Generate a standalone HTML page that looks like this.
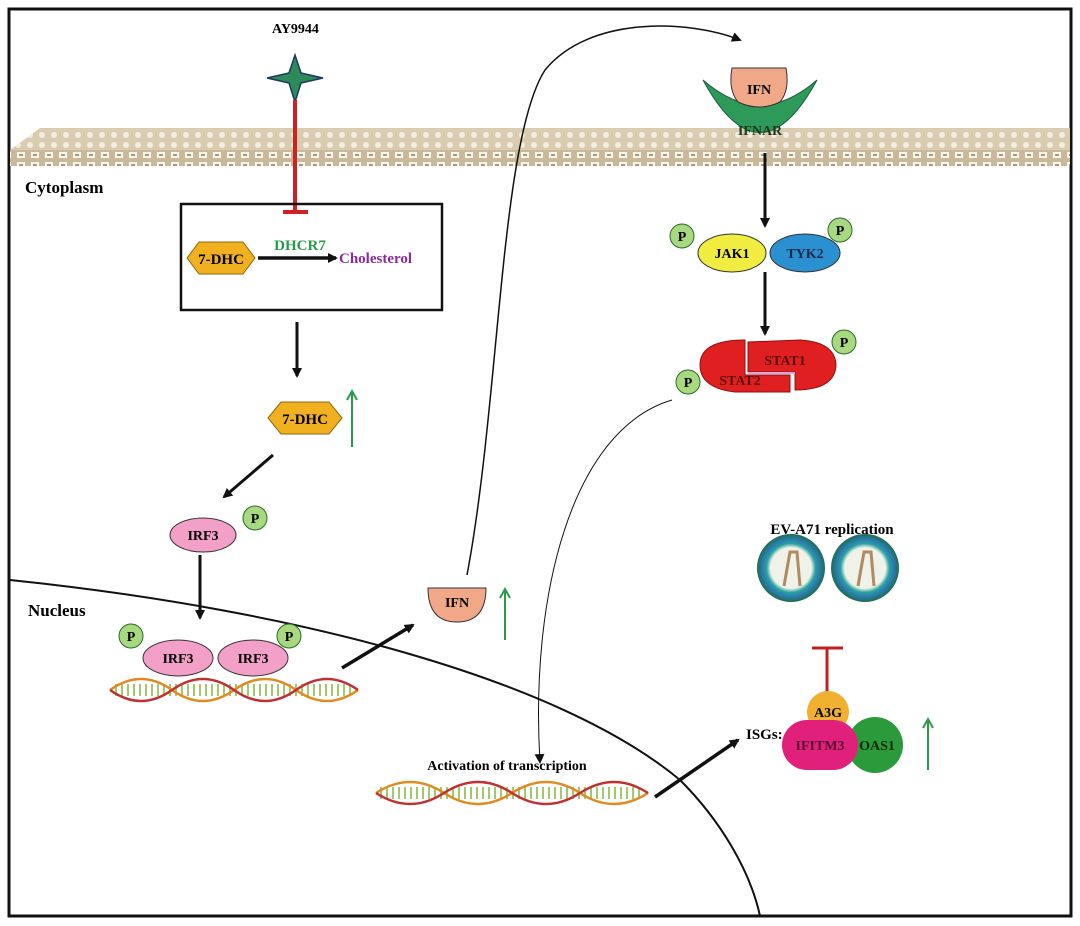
<!DOCTYPE html>
<html><head><meta charset="utf-8"><style>body{margin:0;background:#fff}svg{display:block}text{font-family:"Liberation Serif",serif;font-weight:bold}</style></head><body>
<svg width="1080" height="926" viewBox="0 0 1080 926" xmlns="http://www.w3.org/2000/svg">
<defs>
<marker id="ahs" markerWidth="10" markerHeight="10" refX="8" refY="5" orient="auto" markerUnits="userSpaceOnUse"><path d="M0,0 L10,5 L0,10 z" fill="#111"/></marker>
<pattern id="mem" width="12" height="10" patternUnits="userSpaceOnUse"><rect width="12" height="10" fill="#d9ccb0"/><circle cx="6" cy="5" r="3" fill="#f3ece0"/></pattern>
<pattern id="mem2" width="14" height="10" patternUnits="userSpaceOnUse"><rect width="14" height="10" fill="#c9b99a"/><rect x="3" y="2" width="8" height="6" fill="#fbf7ef"/><rect x="5" y="4" width="4" height="2" fill="#a8987a"/></pattern>
<radialGradient id="vir"><stop offset="0.6" stop-color="#eef2e8"/><stop offset="0.72" stop-color="#2aa0a0"/><stop offset="0.85" stop-color="#2a7ab0"/><stop offset="1" stop-color="#1f6d4a"/></radialGradient>
</defs>
<rect x="9" y="9" width="1062" height="907" fill="none" stroke="#111" stroke-width="3"/>
<polygon points="10,150 40,128 1070,128 1070,150" fill="url(#mem)"/>
<rect x="10" y="150" width="1060" height="16" fill="url(#mem2)"/>
<path d="M10,580 C300,610 560,680 680,780 C720,820 750,870 760,916" fill="none" stroke="#111" stroke-width="2"/>
<text x="25" y="193" font-size="17">Cytoplasm</text>
<text x="28" y="616" font-size="17">Nucleus</text>
<text x="272" y="33" font-size="14">AY9944</text>
<path d="M295,55 L301,73 L323,78 L301,83 L295,102 L289,83 L267,78 L289,73 Z" fill="#2e8a5a" stroke="#1a3a5a" stroke-width="1.5"/>
<line x1="295" y1="100" x2="295" y2="212" stroke="#d02020" stroke-width="4"/>
<line x1="283" y1="212" x2="308" y2="212" stroke="#d02020" stroke-width="4"/>
<rect x="181" y="204" width="261" height="106" fill="none" stroke="#111" stroke-width="2.5"/>
<polygon points="187,258 199,242 243,242 255,258 243,274 199,274" fill="#f0b020" stroke="#8a6a10" stroke-width="1"/>
<text x="221" y="264" font-size="15" text-anchor="middle">7-DHC</text>
<line x1="258" y1="258" x2="336" y2="258" stroke="#111" stroke-width="3.5" marker-end="url(#ahs)"/>
<text x="300" y="250" font-size="15" fill="#2a9a4a" text-anchor="middle">DHCR7</text>
<text x="339" y="263" font-size="15" fill="#8a2a9a">Cholesterol</text>
<line x1="297" y1="322" x2="297" y2="376" stroke="#111" stroke-width="3" marker-end="url(#ahs)"/>
<polygon points="268,418 281,402 329,402 342,418 329,434 281,434" fill="#f0b020" stroke="#8a6a10" stroke-width="1"/>
<text x="305" y="424" font-size="15" text-anchor="middle">7-DHC</text>
<g stroke="#2a9a4a" stroke-width="2" fill="none"><line x1="352" y1="447" x2="352" y2="392"/><path d="M347,400 L352,391 L357,400"/></g>
<line x1="273" y1="455" x2="224" y2="497" stroke="#111" stroke-width="3" marker-end="url(#ahs)"/>
<ellipse cx="203" cy="535" rx="33" ry="17" fill="#f2a0c8" stroke="#333"/>
<text x="203" y="540" font-size="14" text-anchor="middle">IRF3</text>
<circle cx="255" cy="518" r="12" fill="#a8d880" stroke="#2a6a2a"/><text x="255" y="523" font-size="14" text-anchor="middle" font-weight="normal">P</text>
<line x1="200" y1="555" x2="200" y2="618" stroke="#111" stroke-width="3" marker-end="url(#ahs)"/>
<ellipse cx="178" cy="658" rx="35" ry="18" fill="#f2a0c8" stroke="#333"/>
<ellipse cx="253" cy="658" rx="35" ry="18" fill="#f2a0c8" stroke="#333"/>
<text x="178" y="663" font-size="14" text-anchor="middle">IRF3</text>
<text x="253" y="663" font-size="14" text-anchor="middle">IRF3</text>
<circle cx="131" cy="636" r="12" fill="#a8d880" stroke="#2a6a2a"/><text x="131" y="641" font-size="14" text-anchor="middle" font-weight="normal">P</text>
<circle cx="289" cy="636" r="12" fill="#a8d880" stroke="#2a6a2a"/><text x="289" y="641" font-size="14" text-anchor="middle" font-weight="normal">P</text>
<g stroke-width="2.5" fill="none">
<path d="M115,690 h240" stroke="#7ab030" stroke-dasharray="2,4" stroke-width="12" opacity="0.7"/>
<path d="M110,690 q31,-22 62,0 t62,0 t62,0 t62,0" stroke="#e08a20"/>
<path d="M110,690 q31,22 62,0 t62,0 t62,0 t62,0" stroke="#c03030"/>
</g>
<line x1="342" y1="668" x2="413" y2="625" stroke="#111" stroke-width="3.5" marker-end="url(#ahs)"/>
<path d="M428,588 L486,588 Q486,622 457,622 Q428,622 428,588 Z" fill="#f0a888" stroke="#333"/>
<text x="457" y="607" font-size="14" text-anchor="middle">IFN</text>
<g stroke="#2a9a4a" stroke-width="2" fill="none"><line x1="505" y1="640" x2="505" y2="590"/><path d="M500,598 L505,589 L510,598"/></g>
<path d="M467,575 C500,400 500,140 545,70 C590,15 690,20 740,40" fill="none" stroke="#111" stroke-width="1.5" marker-end="url(#ahs)"/>
<path d="M703,80 Q760,185 817,80 Q760,130 703,80 Z" fill="#2e9a5a" stroke="#1a5a3a"/>
<path d="M732,68 L786,68 Q790,90 780,102 Q759,112 738,102 Q728,90 732,68 Z" fill="#f0a888" stroke="#333"/>
<text x="759" y="94" font-size="14" text-anchor="middle">IFN</text>
<text x="760" y="135" font-size="14" text-anchor="middle" fill="#1a3a1a">IFNAR</text>
<line x1="765" y1="153" x2="765" y2="226" stroke="#111" stroke-width="3" marker-end="url(#ahs)"/>
<ellipse cx="732" cy="253" rx="34" ry="19" fill="#f0ec40" stroke="#333"/>
<text x="732" y="258" font-size="14" text-anchor="middle">JAK1</text>
<ellipse cx="805" cy="253" rx="35" ry="19" fill="#2a90d0" stroke="#333"/>
<text x="805" y="258" font-size="14" text-anchor="middle" fill="#1a2a4a">TYK2</text>
<circle cx="682" cy="236" r="12" fill="#a8d880" stroke="#2a6a2a"/><text x="682" y="241" font-size="14" text-anchor="middle" font-weight="normal">P</text>
<circle cx="840" cy="230" r="12" fill="#a8d880" stroke="#2a6a2a"/><text x="840" y="235" font-size="14" text-anchor="middle" font-weight="normal">P</text>
<line x1="765" y1="272" x2="765" y2="334" stroke="#111" stroke-width="3" marker-end="url(#ahs)"/>
<path d="M745,340 Q700,340 700,365 Q700,388 735,392 L790,392 L790,375 L745,375 Z" fill="#e02020" stroke="#901010"/>
<path d="M748,342 L800,340 Q835,342 836,365 Q835,390 795,390 L795,372 L748,372 Z" fill="#e02020" stroke="#901010"/>
<line x1="748" y1="373" x2="795" y2="373" stroke="#d8a8d8" stroke-width="2"/>
<text x="785" y="365" font-size="14" text-anchor="middle" fill="#5a1010">STAT1</text>
<text x="740" y="385" font-size="14" text-anchor="middle" fill="#5a1010">STAT2</text>
<circle cx="844" cy="342" r="12" fill="#a8d880" stroke="#2a6a2a"/><text x="844" y="347" font-size="14" text-anchor="middle" font-weight="normal">P</text>
<circle cx="688" cy="382" r="12" fill="#a8d880" stroke="#2a6a2a"/><text x="688" y="387" font-size="14" text-anchor="middle" font-weight="normal">P</text>
<path d="M672,400 C570,430 530,600 540,762" fill="none" stroke="#111" stroke-width="1" marker-end="url(#ahs)"/>
<text x="507" y="770" font-size="14" text-anchor="middle">Activation of  transcription</text>
<g stroke-width="2.5" fill="none">
<path d="M380,793 h260" stroke="#7ab030" stroke-dasharray="2,4" stroke-width="12" opacity="0.7"/>
<path d="M376,793 q34,-22 68,0 t68,0 t68,0 t68,0" stroke="#e08a20"/>
<path d="M376,793 q34,22 68,0 t68,0 t68,0 t68,0" stroke="#c03030"/>
</g>
<line x1="655" y1="797" x2="738" y2="740" stroke="#111" stroke-width="3.5" marker-end="url(#ahs)"/>
<text x="832" y="534" font-size="15" text-anchor="middle">EV-A71 replication</text>
<circle cx="791" cy="568" r="34" fill="url(#vir)"/>
<circle cx="865" cy="568" r="34" fill="url(#vir)"/>
<path d="M784,586 L790,552 L797,552 L800,586" fill="none" stroke="#b08a60" stroke-width="3"/>
<path d="M858,586 L864,552 L871,552 L874,586" fill="none" stroke="#b08a60" stroke-width="3"/>
<line x1="827" y1="648" x2="827" y2="697" stroke="#c02020" stroke-width="3"/>
<line x1="812" y1="648" x2="843" y2="648" stroke="#c02020" stroke-width="3"/>
<circle cx="828" cy="712" r="21" fill="#f0b030"/>
<text x="828" y="717" font-size="14" text-anchor="middle">A3G</text>
<circle cx="875" cy="745" r="28" fill="#2a9a3a"/>
<rect x="782" y="720" width="76" height="50" rx="25" fill="#e0207a"/>
<text x="820" y="750" font-size="14" text-anchor="middle" fill="#5a1030">IFITM3</text>
<text x="877" y="750" font-size="14" text-anchor="middle" fill="#0a2a0a">OAS1</text>
<text x="746" y="739" font-size="15">ISGs:</text>
<g stroke="#2a9a4a" stroke-width="2" fill="none"><line x1="928" y1="770" x2="928" y2="720"/><path d="M923,728 L928,719 L933,728"/></g>
</svg>
</body></html>
